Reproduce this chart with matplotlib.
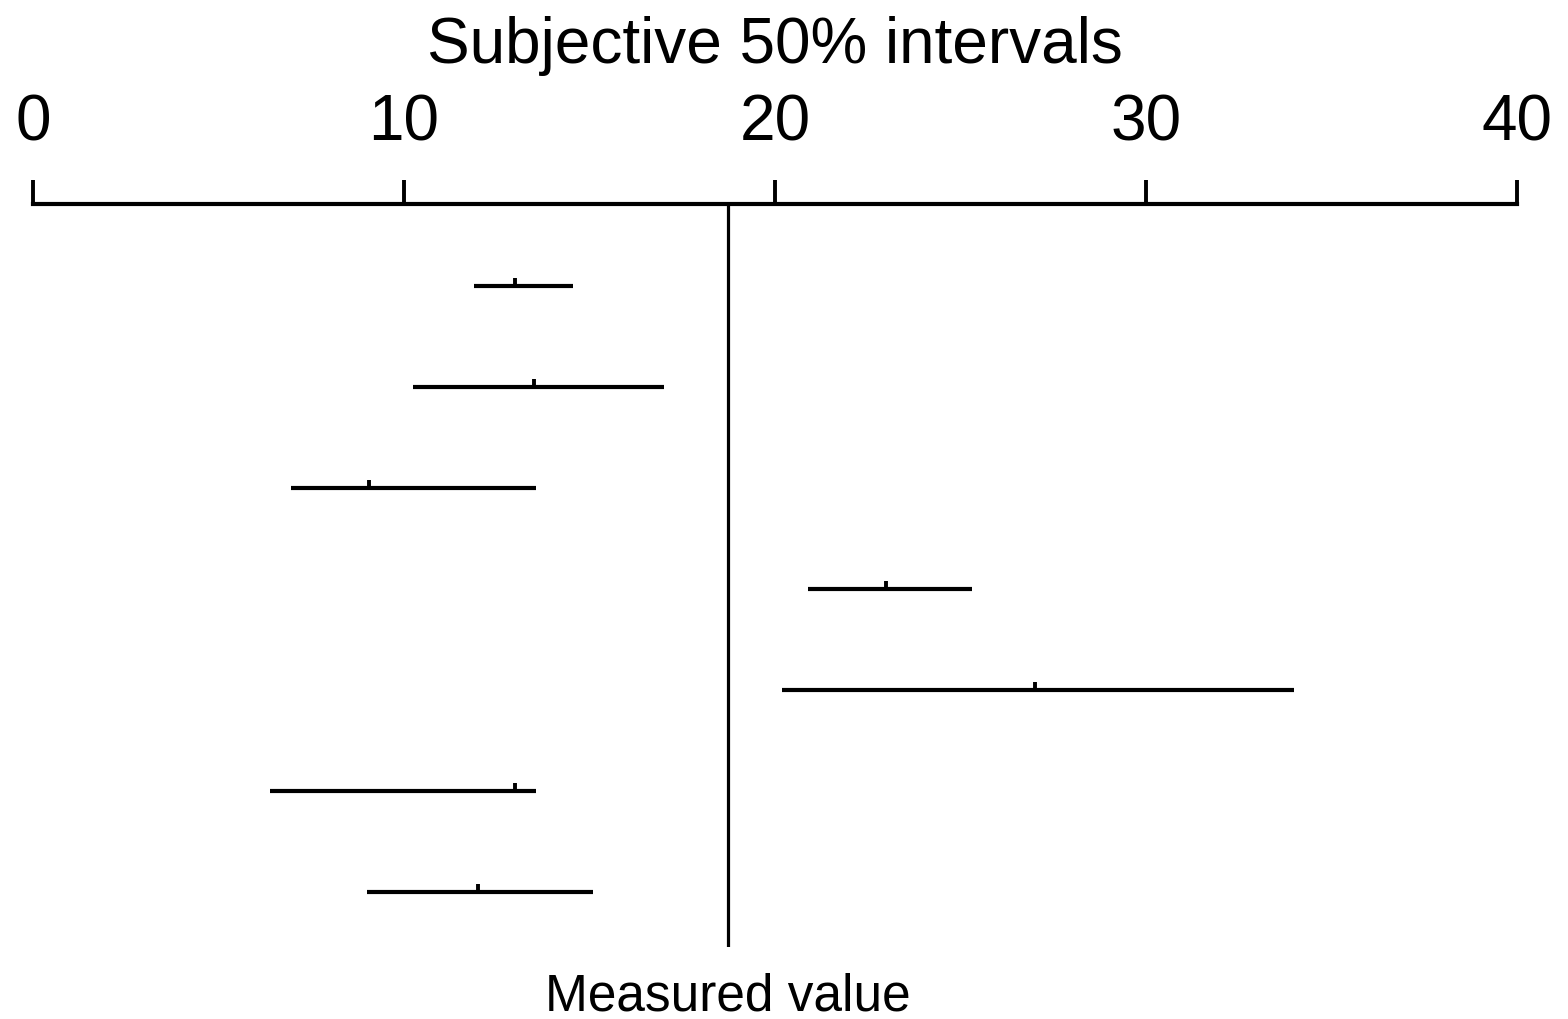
import matplotlib
matplotlib.use("Agg")
import matplotlib.pyplot as plt

plt.rcParams['font.family'] = ['Liberation Sans', 'DejaVu Sans']

# data
rows = [1, 2, 3, 4, 5, 6, 7]
lower = [11.9, 10.25, 6.95, 20.9, 20.2, 6.4, 9.0]
upper = [14.55, 17.0, 13.55, 25.3, 34.0, 13.55, 15.1]
center = [13.0, 13.5, 9.05, 23.0, 27.0, 13.0, 12.0]
measured = 18.73
xticks = [0, 10, 20, 30, 40]
title = "Subjective 50% intervals"
measured_label = "Measured value"

fig = plt.figure(figsize=(15.68, 10.2), dpi=100)
ax = fig.add_axes([33/1568, 1 - 948/1020, (1517-33)/1568, (948-205)/1020])

ax.hlines(rows, lower, upper, color='black', lw=3.0, capstyle='butt')
ax.vlines(center, [r - 0.075 for r in rows], rows, color='black', lw=2.8)
ax.axvline(measured, color='black', lw=2.3)

ax.set_xlim(0, 40)
ax.set_ylim(7.545, 0.188)
ax.xaxis.tick_top()
ax.set_xticks(xticks)
ax.set_xticklabels([str(t) for t in xticks])
ax.tick_params(axis='x', direction='out', length=17, width=2.8, pad=20,
               labelsize=46, colors='black')
ax.set_yticks([])
for s in ['left', 'right', 'bottom']:
    ax.spines[s].set_visible(False)
ax.spines['top'].set_linewidth(3.0)

ax.set_title(title, fontsize=46, pad=102)
fig.text(measured / 40 * (1517-33)/1568 + 33/1568, 1 - 997/1020, measured_label,
         ha='center', va='center', fontsize=37)

fig.savefig('out.png', dpi=100)
